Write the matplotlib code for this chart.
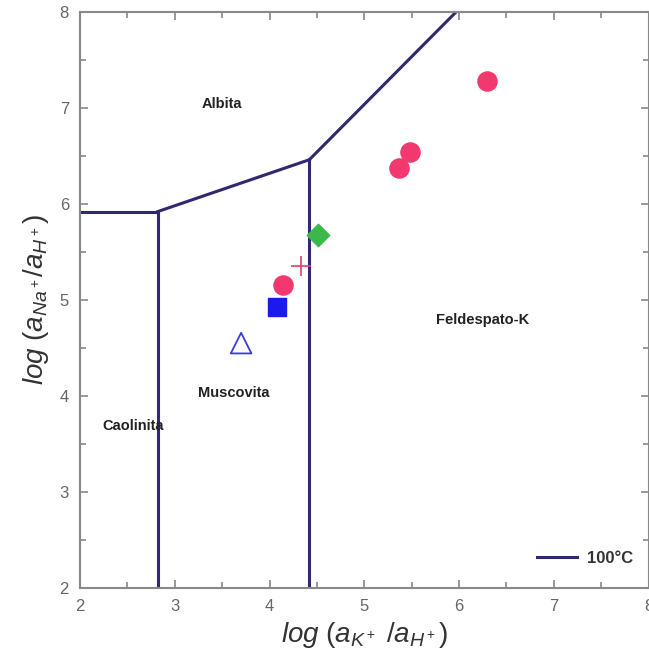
import matplotlib
matplotlib.use("Agg")
import matplotlib.pyplot as plt
from matplotlib.ticker import MultipleLocator

plt.rcParams['font.family'] = ['Liberation Sans', 'DejaVu Sans']
plt.rcParams['mathtext.fontset'] = 'custom'
plt.rcParams['mathtext.it'] = 'Liberation Sans:italic'
plt.rcParams['mathtext.rm'] = 'Liberation Sans'

# Boundary lines (100°C)
bound_x1 = [2.0, 2.82]
bound_y1 = [5.92, 5.92]
bound_x2 = [2.82, 2.82]
bound_y2 = [5.92, 2.0]
bound_x3 = [2.82, 4.42]
bound_y3 = [5.92, 6.46]
bound_x4 = [4.42, 4.42]
bound_y4 = [6.46, 2.0]
bound_x5 = [4.42, 5.97]
bound_y5 = [6.46, 8.0]

# Samples
circ_x = [6.30, 5.48, 5.37, 4.14]
circ_y = [7.28, 6.54, 6.37, 5.16]
diam_x = [4.51]
diam_y = [5.68]
plus_x = [4.33]
plus_y = [5.35]
sq_x = [4.08]
sq_y = [4.93]
tri_x = [3.70]
tri_y = [4.55]

labels = ["Albita", "Feldespato-K", "Muscovita", "Caolinita"]
label_x = [3.50, 6.25, 3.62, 2.56]
label_y = [7.04, 4.79, 4.03, 3.69]

fig = plt.figure(figsize=(6.49, 6.51), dpi=100)
ax = fig.add_axes([0.1233, 0.0968, 0.876, 0.885])

lc = '#2f2a70'
ax.plot(bound_x1, bound_y1, color=lc, lw=2.2, label='100°C')
for bx, by in [(bound_x2, bound_y2), (bound_x3, bound_y3), (bound_x4, bound_y4), (bound_x5, bound_y5)]:
    ax.plot(bx, by, color=lc, lw=2.2)

pink = '#f2386e'
ax.scatter(circ_x, circ_y, s=190, color=pink, zorder=3)
ax.scatter(diam_x, diam_y, s=130, marker='D', color='#3cb84a', zorder=4)
ax.scatter(plus_x, plus_y, s=200, marker='+', color=pink, linewidths=1.2, zorder=3)
ax.scatter(sq_x, sq_y, s=150, marker='s', color='#1a1aee', zorder=3)
ax.scatter(tri_x, tri_y, s=220, marker='^', facecolors='none', edgecolors='#3a3ae0', linewidths=1.3, zorder=3)

for t, x, y in zip(labels, label_x, label_y):
    ax.text(x, y, t, fontsize=10.5, ha='center', va='center', color='#222222', fontweight='bold')

ax.set_xlim(2, 8)
ax.set_ylim(2, 8)
ax.xaxis.set_major_locator(MultipleLocator(1))
ax.xaxis.set_minor_locator(MultipleLocator(0.5))
ax.yaxis.set_major_locator(MultipleLocator(1))
ax.yaxis.set_minor_locator(MultipleLocator(0.5))
ax.tick_params(which='both', direction='in', top=True, right=True, colors='#888888', labelcolor='#666666', labelsize=12)
ax.tick_params(which='major', length=6, width=1.2, pad=8)
ax.tick_params(which='minor', length=4, width=1.2)
for sp in ax.spines.values():
    sp.set_color('#888888')
    sp.set_linewidth(1.5)

ax.set_xlabel(r'$log\ (a_{K^+}\ /a_{H^+})$', fontsize=20, color='#333333', labelpad=4)
ax.set_ylabel(r'$log\ (a_{Na^+}/a_{H^+})$', fontsize=20, color='#333333', labelpad=6)

leg = ax.legend(loc='lower right', frameon=False, fontsize=12, handlelength=2.4,
                handletextpad=0.6, bbox_to_anchor=(1.0, 0.012))
for t in leg.get_texts():
    t.set_fontweight('bold')
    t.set_color('#333333')

fig.savefig('out.png', dpi=100)
